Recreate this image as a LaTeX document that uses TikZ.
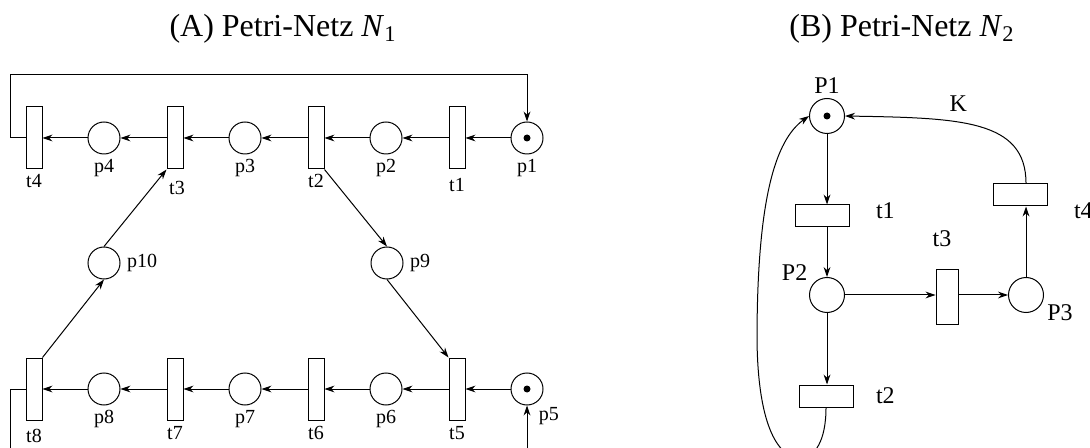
\documentclass[tikz,border=0pt]{standalone}
\usepackage{fontspec}
\setmainfont{Liberation Serif}
\usetikzlibrary{arrows.meta}

\begin{document}
\begin{tikzpicture}[x=0.5pt,y=-0.5pt,line width=0.5pt,
  font=\fontsize{10}{12}\selectfont,
  place/.style={draw,circle,minimum size=16pt,inner sep=0pt},
  bplace/.style={place,minimum size=17.5pt},
  token/.style={path picture={\fill (path picture bounding box.center) circle (1.75pt);}},
  trans/.style={draw,minimum width=8pt,minimum height=31pt,inner sep=0pt},
  htrans/.style={draw,minimum width=27pt,minimum height=11pt,inner sep=0pt},
  vtrans/.style={draw,minimum width=11pt,minimum height=27pt,inner sep=0pt},
  title/.style={font=\fontsize{16}{19}\selectfont},
  blab/.style={font=\fontsize{12}{14}\selectfont},
  arr/.style={-{Stealth[length=5pt,width=3.4pt,inset=1.6pt]}},
  label distance=1pt,
  every label/.style={inner sep=1pt}]
  \useasboundingbox (0,0) rectangle (1090,448);
  \clip (0,0) rectangle (1090,448);
  % (A) net N1: top row
  \node[title] (titleA) at (283,29) {(A) Petri-Netz \textit{N}\textsubscript{1}};
  \node[place,token,label=below:p1] (p1) at (527,138) {};
  \node[trans,label={[label distance=3pt]below:t1}] (t1) at (457,138) {};
  \node[place,label=below:p2] (p2) at (386,138) {};
  \node[trans,label=below:t2] (t2) at (316,138) {};
  \node[place,label=below:p3] (p3) at (245,138) {};
  \node[trans,label={[label distance=4.5pt,xshift=1pt]below:t3}] (t3) at (175,138) {};
  \node[place,label=below:p4] (p4) at (104,138) {};
  \node[trans,label=below:t4] (t4) at (34,138) {};
  % bottom row
  \node[place,token,label=-60:p5] (p5) at (527,389) {};
  \node[trans,label={[label distance=1.5pt]below:t5}] (t5) at (457,389) {};
  \node[place,label=below:p6] (p6) at (386,389) {};
  \node[trans,label={[label distance=1.5pt]below:t6}] (t6) at (316,389) {};
  \node[place,label=below:p7] (p7) at (245,389) {};
  \node[trans,label={[label distance=1.5pt]below:t7}] (t7) at (175,389) {};
  \node[place,label=below:p8] (p8) at (104,389) {};
  \node[trans,label={[label distance=3pt]below:t8}] (t8) at (34,389) {};
  % middle places
  \node[place,label={[label distance=2pt]right:p9}] (p9) at (387,263) {};
  \node[place,label={[label distance=2pt]right:p10}] (p10) at (104,263) {};
  \draw[arr] (p1) -- (t1);
  \draw[arr] (t1) -- (p2);
  \draw[arr] (p2) -- (t2);
  \draw[arr] (t2) -- (p3);
  \draw[arr] (p3) -- (t3);
  \draw[arr] (t3) -- (p4);
  \draw[arr] (p4) -- (t4);
  \draw[arr] (p5) -- (t5);
  \draw[arr] (t5) -- (p6);
  \draw[arr] (p6) -- (t6);
  \draw[arr] (t6) -- (p7);
  \draw[arr] (p7) -- (t7);
  \draw[arr] (t7) -- (p8);
  \draw[arr] (p8) -- (t8);
  \draw[arr] (t8.north east) -- (p10.south);
  \draw[arr] (p10.north) -- (t3.south west);
  \draw[arr] (t2.south east) -- (p9.north);
  \draw[arr] (p9.south) -- (t5.north west);
  % feedback lines
  \coordinate (topl) at (10,75);
  \coordinate (botl) at (10,470);
  \draw[arr] (t4.west) -| (topl) -| (p1.north);
  \draw[arr] (t8.west) -| (botl) -| (p5.south);
  % (B) net N2
  \node[title] (titleB) at (902,29) {(B) Petri-Netz \textit{N}\textsubscript{2}};
  \node[bplace,token,label={[blab,label distance=1pt]above:P1}] (P1) at (827,116) {};
  \node[htrans,label={[blab,label distance=12pt,yshift=2.5pt]right:t1}] (bt1) at (822,216) {};
  \node[bplace,label={[blab,label distance=1.5pt]145:P2}] (P2) at (827,295) {};
  \node[htrans,label={[blab,label distance=10pt]right:t2}] (bt2) at (826,396) {};
  \node[vtrans,label={[blab,label distance=10pt,xshift=-2.5pt]above:t3}] (bt3) at (947,297) {};
  \node[bplace,label={[blab]-20:P3}] (P3) at (1026,295) {};
  \node[htrans,label={[blab,label distance=12pt,yshift=-8pt]right:t4}] (bt4) at (1020,195) {};
  \draw[arr] (P1.south) -- (P1.south |- bt1.north);
  \draw[arr] (P1.south |- bt1.south) -- (P2.north);
  \draw[arr] (P2.south) -- (P2.south |- bt2.north);
  \draw[arr] (P2.east) -- (P2.east -| bt3.west);
  \draw[arr] (P2.east -| bt3.east) -- (P3.west);
  \draw[arr] (P3.north) -- (P3.north |- bt4.south);
  \draw[arr] (P3.north |- bt4.north) .. controls +(0,-64) and +(115,2) .. (P1.east)
    node[blab,pos=0.6,above=2pt] (klab) {K};
  % loop back from t2 to P1
  \coordinate (loopb) at (800,458);
  \coordinate (loopl) at (757,340);
  \draw[arr] (bt2.south) .. controls +(0,33) and +(15,0) .. (loopb)
    .. controls +(-20,0) and +(1,90) .. (loopl)
    .. controls +(0,-140) and +(-34,24) .. (P1.west);
\end{tikzpicture}
\end{document}
